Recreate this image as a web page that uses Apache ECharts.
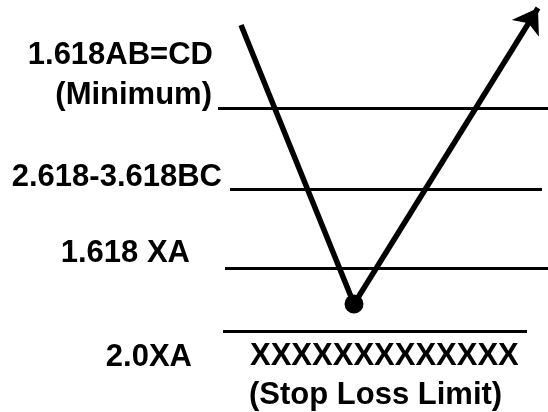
<!DOCTYPE html>
<html>
<head>
<meta charset="utf-8">
<script src="https://cdn.jsdelivr.net/npm/echarts@6/dist/echarts.min.js"></script>
<style>
html,body{margin:0;padding:0;background:#fff;}
#c{width:548px;height:412px;}
</style>
</head>
<body>
<div id="c"></div>
<script>
// Horizontal level lines (diagram units, y grows downward)
const levelY  = [108, 189, 268, 331];
const levelX0 = [218, 230, 225, 223];
const levelX1 = [548, 542, 548, 527];

// Price path: start, low point (dot), arrow end
const pathX = [241, 354, 538];
const pathY = [25, 304, 8];

// Left-side labels (right aligned at x)
const leftLabels = ['1.618AB=CD', '(Minimum)', '2.618-3.618BC', '1.618 XA', '2.0XA'];
const leftLabelX = [213, 212, 222, 190, 192];
const leftLabelY = [55, 95, 177, 253, 357];

// Bottom labels (left aligned at x)
const bottomLabels = ['XXXXXXXXXXXXX', '(Stop Loss Limit)'];
const bottomLabelX = [250, 249];
const bottomLabelY = [356, 395];

const chart = echarts.init(document.getElementById('c'), null, {renderer: 'canvas'});

const font = {fontFamily: 'Liberation Sans, Arial, sans-serif', fontWeight: 'bold', fontSize: 31, color: '#000', opacity: 1};

const levelLines = levelY.map((y, i) => ({coords: [[levelX0[i], y], [levelX1[i], y]]}));

const option = {
  animation: false,
  backgroundColor: '#fff',
  grid: {left: 0, right: 0, top: 0, bottom: 0},
  xAxis: {type: 'value', min: 0, max: 548, show: false},
  yAxis: {type: 'value', min: 0, max: 412, inverse: true, show: false},
  series: [
    {
      type: 'lines', coordinateSystem: 'cartesian2d', polyline: false,
      symbol: ['none', 'none'],
      lineStyle: {color: '#000', width: 3, opacity: 1},
      data: levelLines, z: 1
    },
    {
      type: 'lines', coordinateSystem: 'cartesian2d',
      symbol: ['none', 'none'],
      lineStyle: {color: '#000', width: 5.5, opacity: 1},
      data: [{coords: [[pathX[0], pathY[0]], [pathX[1], pathY[1]]]}], z: 2
    },
    {
      type: 'lines', coordinateSystem: 'cartesian2d',
      symbol: ['none', 'arrow'], symbolSize: [20, 24],
      lineStyle: {color: '#000', width: 5.5, opacity: 1},
      data: [{coords: [[pathX[1], pathY[1]], [pathX[2], pathY[2]]]}], z: 2
    },
    {
      type: 'scatter', symbol: 'circle', symbolSize: 19,
      itemStyle: {color: '#000', opacity: 1},
      data: [[pathX[1], pathY[1]]], z: 3
    },
    {
      type: 'scatter', symbolSize: 0, silent: true,
      itemStyle: {opacity: 1},
      data: leftLabels.map((t, i) => ({value: [leftLabelX[i], leftLabelY[i]], name: t})),
      label: Object.assign({show: true, position: [0, 0], align: 'right', verticalAlign: 'middle', formatter: p => p.name}, font)
    },
    {
      type: 'scatter', symbolSize: 0, silent: true,
      itemStyle: {opacity: 1},
      data: bottomLabels.map((t, i) => ({value: [bottomLabelX[i], bottomLabelY[i]], name: t})),
      label: Object.assign({show: true, position: [0, 0], align: 'left', verticalAlign: 'middle', formatter: p => p.name}, font)
    }
  ]
};
chart.setOption(option);
</script>
</body>
</html>
